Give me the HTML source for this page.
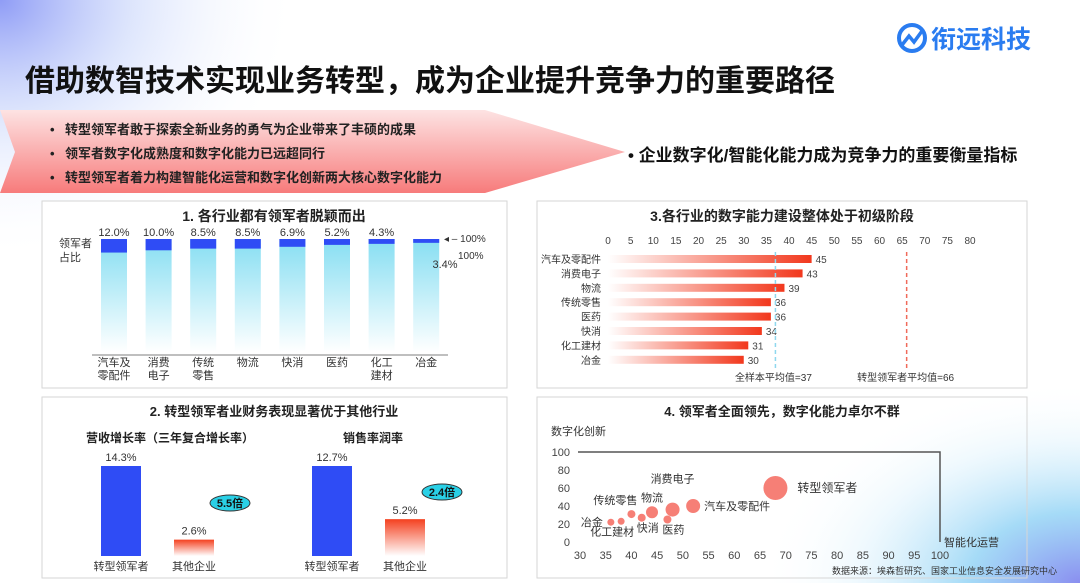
<!DOCTYPE html>
<html><head><meta charset="utf-8">
<style>
html,body{margin:0;padding:0;width:1080px;height:583px;overflow:hidden;background:#fff;font-family:"Liberation Sans","Noto Sans CJK SC",sans-serif}
svg{position:absolute;left:0;top:0}
text{font-family:"Liberation Sans","Noto Sans CJK SC",sans-serif}
</style></head><body>
<svg id="s" width="1080" height="583" viewBox="0 0 1080 583">
<defs>
<radialGradient id="glowTL" cx="0" cy="0" r="1"><stop offset="0" stop-color="#8f9cf6"/><stop offset="0.45" stop-color="#c9d6fb" stop-opacity="0.6"/><stop offset="1" stop-color="#fff" stop-opacity="0"/></radialGradient>
<radialGradient id="glowBR" cx="1" cy="1" r="1"><stop offset="0" stop-color="#8a8ef0"/><stop offset="0.35" stop-color="#8fd2f5" stop-opacity="0.8"/><stop offset="0.7" stop-color="#d8f0fc" stop-opacity="0.4"/><stop offset="1" stop-color="#fff" stop-opacity="0"/></radialGradient>
<linearGradient id="banner" x1="0" y1="0" x2="0" y2="1"><stop offset="0" stop-color="#fde3e3"/><stop offset="1" stop-color="#f77b7b"/></linearGradient>
<linearGradient id="cyan" x1="0" y1="0" x2="0" y2="1"><stop offset="0" stop-color="#86def2"/><stop offset="1" stop-color="#ffffff"/></linearGradient>
<linearGradient id="redH" x1="0" y1="0" x2="1" y2="0"><stop offset="0" stop-color="#fff"/><stop offset="1" stop-color="#f2381d"/></linearGradient>
<linearGradient id="redV" x1="0" y1="0" x2="0" y2="1"><stop offset="0" stop-color="#f4401f"/><stop offset="1" stop-color="#fff"/></linearGradient>
</defs>
<rect x="0" y="0" width="300" height="260" fill="url(#glowTL)"/>
<rect x="760" y="380" width="320" height="203" fill="url(#glowBR)"/>
<g>
<circle cx="912" cy="38" r="13" fill="none" stroke="#2a7cf0" stroke-width="4"/>
<polyline points="902,45 909,36 914,42 922,31" fill="none" stroke="#2a7cf0" stroke-width="3.5"/>
<text x="931" y="48" font-size="25" font-weight="bold" fill="#2a7cf0">衔远科技</text>
</g>
<text x="25" y="91" font-size="30" font-weight="bold" fill="#111">借助数智技术实现业务转型，成为企业提升竞争力的重要路径</text>
<polygon points="0,110 485,110 625,152 485,193 0,193 15,152" fill="url(#banner)"/>
<g font-size="13" font-weight="bold" fill="#222">
<text x="50" y="134">•</text><text x="65" y="134">转型领军者敢于探索全新业务的勇气为企业带来了丰硕的成果</text>
<text x="50" y="158">•</text><text x="65" y="158">领军者数字化成熟度和数字化能力已远超同行</text>
<text x="50" y="182">•</text><text x="65" y="182">转型领军者着力构建智能化运营和数字化创新两大核心数字化能力</text>
</g>
<text x="628" y="161" font-size="17" font-weight="bold" fill="#111">• 企业数字化/智能化能力成为竞争力的重要衡量指标</text>
<rect x="42" y="201" width="465" height="187" fill="#fff" stroke="#d6d6d6"/>
<rect x="537" y="201" width="490" height="187" fill="#fff" stroke="#d6d6d6"/>
<rect x="42" y="397" width="465" height="181" fill="#fff" stroke="#d6d6d6"/>
<rect x="537" y="397" width="490" height="181" fill="none" stroke="#d6d6d6"/>
<g id="c1"></g><g id="c2"></g><g id="c3"></g><g id="c4"></g>
<text x="1057" y="574" font-size="9" fill="#333" text-anchor="end">数据来源：埃森哲研究、国家工业信息安全发展研究中心</text>
</svg>
<script>
// Chart 1
const c1Cats=[["汽车及","零配件"],["消费","电子"],["传统","零售"],["物流"],["快消"],["医药"],["化工","建材"],["冶金"]];
const c1Lead=[12.0,10.0,8.5,8.5,6.9,5.2,4.3,3.4];
// Chart 2
const c2Groups=["营收增长率（三年复合增长率）","销售率润率"];
const c2Cats=["转型领军者","其他企业"];
const c2Rev=[14.3,2.6];
const c2Margin=[12.7,5.2];
const c2Ratio=["5.5倍","2.4倍"];
// Chart 3
const c3Cats=["汽车及零配件","消费电子","物流","传统零售","医药","快消","化工建材","冶金"];
const c3Vals=[45,43,39,36,36,34,31,30];
const c3Ticks=[0,5,10,15,20,25,30,35,40,45,50,55,60,65,70,75,80];
const c3AvgAll=37, c3AvgLead=66;
// Chart 4
const c4Names=["冶金","化工建材","传统零售","快消","物流","医药","消费电子","汽车及零配件","转型领军者"];
const c4X=[36,38,40,42,44,47,48,52,68];
const c4Y=[22,23,31,27,33,25,36,40,60];
const c4Size=[3.5,3.5,4,4,6,4,7,7,12];
const c4XTicks=[30,35,40,45,50,55,60,65,70,75,80,85,90,95,100];
const c4YTicks=[0,20,40,60,80,100];

const NS="http://www.w3.org/2000/svg";
function mk(p,tag,a,txt){const e=document.createElementNS(NS,tag);for(const k in a)e.setAttribute(k,a[k]);if(txt!==undefined)e.textContent=txt;p.appendChild(e);return e;}

// ---- Chart 1
(function(){
const g=document.getElementById('c1');
const t=mk(g,'text',{x:274,y:221,'font-size':14,'font-weight':'bold','text-anchor':'middle',fill:'#222'},'1. 各行业都有领军者脱颖而出');


const yl=mk(g,'text',{x:59,y:247,'font-size':11,fill:'#333'},'领军者');


mk(g,'text',{x:59,y:261,'font-size':11,fill:'#333'},'占比');
const top=239,bot=352,H=bot-top,x0=114,step=44.6,bw=26;
const ys=v=>H*v/100;
c1Cats.forEach((c,i)=>{
 const cx=x0+i*step;
 const b=mk(g,'rect',{x:cx-bw/2,y:top,width:bw,height:H,fill:'url(#cyan)'});
 
 
 const l=mk(g,'rect',{x:cx-bw/2,y:top,width:bw,height:ys(c1Lead[i]),fill:'#2f4cf5'});
 
 
 if(i<c1Cats.length-1){
  const v=mk(g,'text',{x:cx,y:236,'font-size':11,'text-anchor':'middle',fill:'#333'},c1Lead[i].toFixed(1)+'%');
  
  
 } else {
  const v=mk(g,'text',{x:445,y:268,'font-size':11,'text-anchor':'middle',fill:'#333'},c1Lead[i].toFixed(1)+'%');
  
  
 }
 c.forEach((s,j)=>{const e=mk(g,'text',{x:cx,y:366+j*13,'font-size':11,'text-anchor':'middle',fill:'#333'},s);
  
  });
});
const ax=mk(g,'line',{x1:92,y1:355,x2:448,y2:355,stroke:'#aaa','stroke-width':1.5});


mk(g,'text',{x:444,y:242,'font-size':10,fill:'#333'},'◂ – 100%');
mk(g,'text',{x:458,y:259,'font-size':10,fill:'#333'},'100%');
})();

// ---- Chart 2
(function(){
const g=document.getElementById('c2');
const t=mk(g,'text',{x:274,y:416,'font-size':13,'font-weight':'bold','text-anchor':'middle',fill:'#222'},'2. 转型领军者业财务表现显著优于其他行业');


const groups=[{d:c2Rev,x:[121,194],sx:170},{d:c2Margin,x:[332,405],sx:373}];
const bot=556,H=90,ell=[[230,503],[442,492]];
groups.forEach((gr,k)=>{
 const st=mk(g,'text',{x:gr.sx,y:442,'font-size':12,'font-weight':'bold','text-anchor':'middle',fill:'#222'},c2Groups[k]);
 
 
 const mx=Math.max(...gr.d);
 gr.d.forEach((v,i)=>{
  const h=H*v/mx;
  const b=mk(g,'rect',{x:gr.x[i]-20,y:bot-h,width:40,height:h,fill:i==0?'#2f4cf5':'url(#redV)'});
  
  
  const vl=mk(g,'text',{x:gr.x[i],y:bot-h-5,'font-size':11,'text-anchor':'middle',fill:'#333'},v.toFixed(1)+'%');
  
  
  const cl=mk(g,'text',{x:gr.x[i],y:570,'font-size':11,'text-anchor':'middle',fill:'#333'},c2Cats[i]);
  
  
 });
 const e=mk(g,'ellipse',{cx:ell[k][0],cy:ell[k][1],rx:20,ry:8,fill:'#2ad0e6',stroke:'#333','stroke-width':1});
 
 
 mk(g,'text',{x:ell[k][0],y:ell[k][1]+4,'font-size':11,'font-weight':'bold','text-anchor':'middle',fill:'#111'},c2Ratio[k]);
});
})();

// ---- Chart 3
(function(){
const g=document.getElementById('c3');
const t=mk(g,'text',{x:782,y:221,'font-size':14,'font-weight':'bold','text-anchor':'middle',fill:'#222'},'3.各行业的数字能力建设整体处于初级阶段');


const x=v=>608+v*(970-608)/80;
c3Ticks.forEach(v=>{const e=mk(g,'text',{x:x(v),y:244,'font-size':10,'text-anchor':'middle',fill:'#444'},v);
 
 });
c3Cats.forEach((c,i)=>{
 const cy=259+i*14.4;
 const b=mk(g,'rect',{x:x(0),y:cy-4,width:x(c3Vals[i])-x(0),height:8,fill:'url(#redH)'});
 
 
 const l=mk(g,'text',{x:601,y:cy+4,'font-size':10,'text-anchor':'end',fill:'#333'},c);
 
 
 const v=mk(g,'text',{x:x(c3Vals[i])+4,y:cy+4,'font-size':10,fill:'#444'},c3Vals[i]);
 
 
});
const a1=mk(g,'line',{x1:x(c3AvgAll),y1:252,x2:x(c3AvgAll),y2:368,stroke:'#8fd8ee','stroke-width':1.5,'stroke-dasharray':'4,3'});


const a2=mk(g,'line',{x1:x(c3AvgLead),y1:252,x2:x(c3AvgLead),y2:368,stroke:'#f06a5a','stroke-width':1.5,'stroke-dasharray':'4,3'});


mk(g,'text',{x:x(c3AvgAll)-2,y:381,'font-size':10,'text-anchor':'middle',fill:'#333'},'全样本平均值='+c3AvgAll);
mk(g,'text',{x:x(c3AvgLead)-1,y:381,'font-size':10,'text-anchor':'middle',fill:'#333'},'转型领军者平均值='+c3AvgLead);
})();

// ---- Chart 4
(function(){
const g=document.getElementById('c4');
const t=mk(g,'text',{x:782,y:416,'font-size':13,'font-weight':'bold','text-anchor':'middle',fill:'#222'},'4. 领军者全面领先，数字化能力卓尔不群');


const yt=mk(g,'text',{x:551,y:435,'font-size':11,fill:'#333'},'数字化创新');


const x=v=>580+(v-30)*(940-580)/70, y=v=>542-v*0.9;
c4XTicks.forEach(v=>{const e=mk(g,'text',{x:x(v),y:559,'font-size':11,'text-anchor':'middle',fill:'#444'},v);
 
 });
c4YTicks.forEach(v=>{const e=mk(g,'text',{x:570,y:y(v)+4,'font-size':11,'text-anchor':'end',fill:'#444'},v);
 
 });
const fr=mk(g,'polyline',{points:`${x(30)-2},${y(100)} ${x(100)},${y(100)} ${x(100)},${y(0)}`,fill:'none',stroke:'#555','stroke-width':1.5});


const xt=mk(g,'text',{x:944,y:546,'font-size':11,fill:'#333'},'智能化运营');


const lab=[[-8,4,'end'],[-9,14,'middle'],[-16,-10,'middle'],[6,14,'middle'],[0,-11,'middle'],[6,14,'middle'],[0,-27,'middle'],[10,4,'start'],[16,4,'start']];
c4Names.forEach((n,i)=>{
 const cx=x(c4X[i]),cy=y(c4Y[i]);
 const c=mk(g,'circle',{cx:cx,cy:cy,r:c4Size[i],fill:'#f67f76'});
 
 
 const L=lab[i];
 const tx=mk(g,'text',{x:cx+L[0]+(L[2]=='start'?c4Size[i]-6:0),y:cy+L[1],'font-size':i==8?12:11,'text-anchor':L[2],fill:'#333'},n);
 
 
});
})();
</script>
</body></html>
